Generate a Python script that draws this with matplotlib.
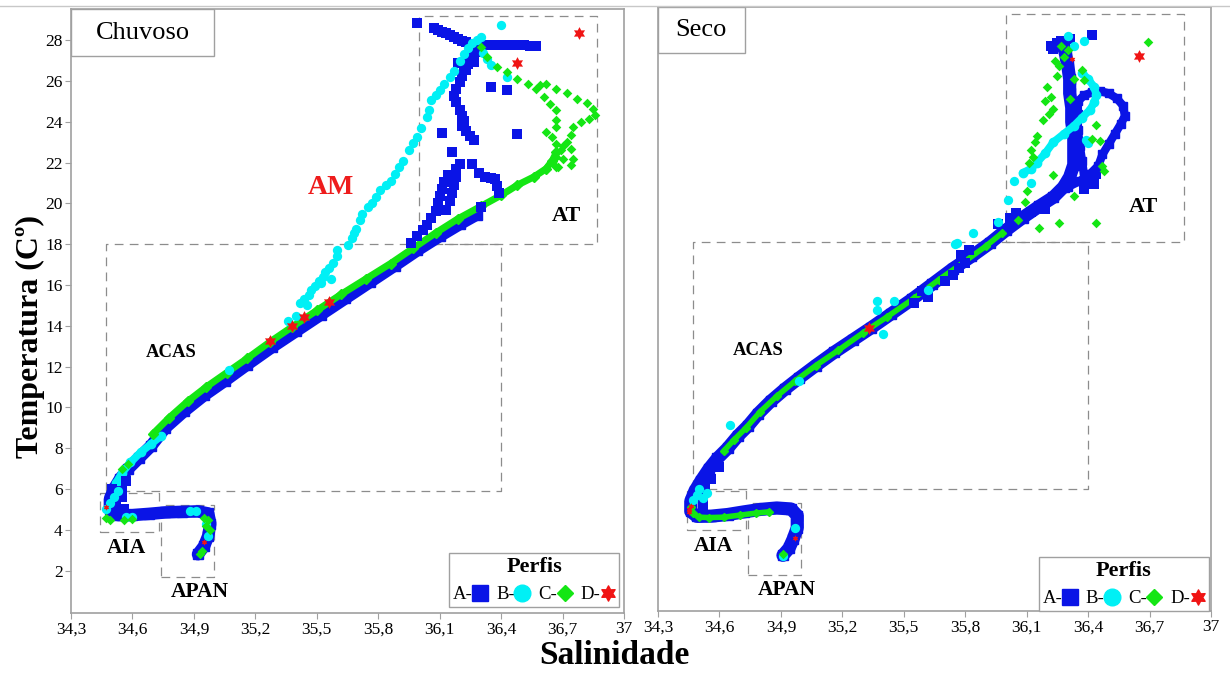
import matplotlib
matplotlib.use("Agg")
import matplotlib.pyplot as plt
from matplotlib.lines import Line2D
from matplotlib.patches import Rectangle
from matplotlib.path import Path

plt.rcParams["font.family"] = ["Liberation Serif", "DejaVu Serif"]

# -------------------------
# Axis ticks
# -------------------------
x_ticks = [34.3, 34.6, 34.9, 35.2, 35.5, 35.8, 36.1, 36.4, 36.7, 37.0]
x_ticklabels = ["34,3", "34,6", "34,9", "35,2", "35,5", "35,8", "36,1", "36,4", "36,7", "37"]
y_ticks = [2, 4, 6, 8, 10, 12, 14, 16, 18, 20, 22, 24, 26, 28]

# water mass boxes: (S min, S max, T min, T max)
box_at = (36.0, 36.87, 18.0, 29.2)
box_acas = (34.47, 36.4, 5.9, 18.0)
box_aia = (34.44, 34.73, 3.9, 5.8)
box_apan = (34.74, 35.0, 1.7, 5.2)

# -------------------------
# Chuvoso (rainy season)
# -------------------------
# profile A (blue) - dense band
ch_a_band_s = [34.92, 34.95, 34.97, 34.98, 34.97, 34.92, 34.84, 34.76, 34.68, 34.60, 34.53, 34.49, 34.49,
               34.51, 34.54, 34.58, 34.63, 34.69, 34.76, 34.85, 34.95, 35.05, 35.16, 35.28, 35.40, 35.52,
               35.64, 35.76, 35.88, 35.99, 36.10, 36.20, 36.28]
ch_a_band_t = [2.8, 3.2, 3.7, 4.3, 4.8, 4.9, 4.88, 4.85, 4.78, 4.72, 4.72, 5.0, 5.5,
               6.0, 6.5, 7.0, 7.5, 8.1, 9.0, 9.8, 10.6, 11.3, 12.1, 12.95, 13.75, 14.55,
               15.35, 16.15, 16.95, 17.7, 18.4, 19.0, 19.45]
ch_a_s = [35.99, 36.07, 36.09, 36.11, 36.13, 36.15, 36.17, 36.19, 36.21, 36.23, 36.26, 36.29, 36.32, 36.35,
          36.38, 36.41, 36.44, 36.48, 36.51, 36.54, 36.57,
          36.26, 36.25, 36.24, 36.23, 36.21, 36.20, 36.18, 36.17, 36.18, 36.20, 36.21, 36.22, 36.21, 36.23,
          36.25, 36.27, 36.16, 36.20, 36.18, 36.14, 36.12, 36.11, 36.10, 36.09, 36.08, 36.06, 36.04, 36.02,
          35.99, 35.96,
          36.18, 36.17, 36.16, 36.15, 36.13,
          36.26, 36.29, 36.32, 36.35, 36.37, 36.38, 36.39,
          36.35, 36.43, 36.11, 36.48, 36.30, 36.19, 36.22, 36.24, 36.27, 36.29,
          34.52, 34.55, 34.56, 34.53, 34.55, 34.50, 34.57]
ch_a_t = [28.82, 28.6, 28.5, 28.42, 28.35, 28.25, 28.15, 28.05, 27.97, 27.9, 27.82, 27.72, 27.75, 27.75,
          27.75, 27.75, 27.75, 27.75, 27.75, 27.72, 27.72,
          27.45, 27.15, 26.85, 26.55, 26.25, 25.95, 25.6, 25.25, 24.95, 24.6, 24.3, 24.05, 23.8, 23.55,
          23.3, 23.1, 22.5, 21.95, 21.7, 21.4, 21.05, 20.7, 20.35, 20.0, 19.65, 19.3, 18.95, 18.7,
          18.4, 18.05,
          21.3, 20.9, 20.5, 20.1, 19.7,
          21.95, 21.5, 21.3, 21.25, 21.2, 20.85, 20.5,
          25.7, 25.55, 23.43, 23.39, 19.83, 26.9, 26.6, 27.25, 26.95, 27.4,
          5.3, 5.6, 5.0, 4.9, 5.9, 6.0, 6.4]

# profile B (cyan)
ch_b_band_s = [34.52, 34.55, 34.59, 34.64, 34.69, 34.74]
ch_b_band_t = [6.3, 6.8, 7.3, 7.8, 8.2, 8.6]
ch_b_s = [34.49, 34.51, 34.53, 34.57, 34.60, 34.88, 34.91, 34.97, 34.96, 34.47, 35.07, 35.36, 35.40,
          35.42, 35.44, 35.46, 35.47, 35.49, 35.51, 35.53, 35.54, 35.56, 35.58, 35.60, 35.60, 35.65,
          35.67, 35.68, 35.69, 35.71, 35.72, 35.75, 35.77, 35.79, 35.81, 35.84, 35.86, 35.88, 35.90,
          35.92, 35.95, 35.97, 35.99, 36.01, 36.04, 36.05, 36.06, 36.08, 36.10, 36.12, 36.15, 36.17,
          36.20, 36.22, 36.24, 36.26, 36.30, 36.31, 36.33, 36.35, 36.43, 36.40, 36.28, 35.45, 35.52, 35.57]
ch_b_t = [5.3, 5.6, 5.9, 4.62, 4.62, 4.9, 4.92, 3.7, 4.3, 5.0, 11.85, 14.25, 14.5,
          15.1, 15.3, 15.5, 15.75, 15.95, 16.2, 16.4, 16.65, 16.85, 17.1, 17.4, 17.7, 17.95,
          18.3, 18.55, 18.75, 19.2, 19.5, 19.8, 20.0, 20.3, 20.65, 20.9, 21.1, 21.45, 21.8,
          22.1, 22.6, 22.95, 23.26, 23.7, 24.24, 24.6, 25.06, 25.3, 25.55, 25.85, 26.2, 26.5,
          27.0, 27.3, 27.6, 27.84, 28.16, 27.35, 27.1, 26.77, 26.2, 28.74, 28.0, 15.0, 16.1, 16.3]

# profile C (green)
ch_c_band_s = [34.70, 34.78, 34.87, 34.96, 35.06, 35.16, 35.27, 35.38, 35.50, 35.62, 35.74, 35.86,
               35.97, 36.08, 36.19, 36.30, 36.40, 36.48, 36.56, 36.62, 36.65, 36.67]
ch_c_band_t = [8.7, 9.5, 10.3, 11.0, 11.7, 12.4, 13.2, 13.95, 14.75, 15.55, 16.3, 17.05,
               17.8, 18.55, 19.25, 19.85, 20.4, 20.9, 21.3, 21.7, 22.1, 22.5]
ch_c_s = [36.30, 36.33, 36.38, 36.43, 36.48, 36.53, 36.57, 36.61, 36.64, 36.67, 36.67, 36.67, 36.62,
          36.65, 36.67, 36.69, 36.67, 36.68,
          36.59, 36.62, 36.67, 36.72, 36.77, 36.82, 36.85, 36.86, 36.83, 36.79, 36.75, 36.74, 36.72,
          36.74, 36.75, 36.74, 36.70, 36.70, 36.67,
          34.47, 34.49, 34.56, 34.60, 34.55, 34.58, 34.97, 34.96, 34.98, 34.95, 34.93, 34.94]
ch_c_t = [27.67, 27.18, 26.69, 26.45, 26.12, 25.87, 25.63, 25.22, 24.89, 24.57, 24.08, 23.75, 23.5,
          23.25, 22.93, 22.6, 22.28, 21.8,
          25.8, 25.87, 25.63, 25.39, 25.14, 24.9, 24.65, 24.33, 24.16, 24.0, 23.75, 23.33, 23.0,
          22.68, 22.19, 21.86, 22.2, 22.8, 21.8,
          4.6, 4.5, 4.5, 4.55, 7.0, 7.2, 4.5, 4.2, 4.0, 4.6, 2.8, 2.95]

# profile D (red)
ch_d_s = [35.27, 35.38, 35.44, 35.56, 36.48, 36.78]
ch_d_t = [13.26, 14.0, 14.41, 15.17, 26.9, 28.36]
ch_d_small_s = [34.47, 34.95]
ch_d_small_t = [5.12, 3.41]

# -------------------------
# Seco (dry season)
# -------------------------
se_a_band_s = [34.91, 34.94, 34.96, 34.98, 34.98, 34.95, 34.88, 34.80, 34.72, 34.64, 34.56, 34.49, 34.46,
               34.46, 34.48, 34.51, 34.55, 34.59, 34.64, 34.69, 34.74, 34.79, 34.85, 34.92, 34.99, 35.07,
               35.16, 35.25, 35.34, 35.44, 35.54, 35.64, 35.74, 35.83, 35.92, 36.00, 36.08, 36.16, 36.23,
               36.28, 36.31, 36.33, 36.33, 36.33, 36.32, 36.32, 36.31, 36.31, 36.30, 36.29, 36.28]
se_a_band_t = [2.65, 3.0, 3.45, 4.0, 4.6, 4.92, 4.97, 4.9, 4.78, 4.65, 4.57, 4.56, 4.8,
               5.3, 5.8, 6.3, 6.9, 7.4, 7.9, 8.5, 9.0, 9.6, 10.2, 10.8, 11.35, 11.95,
               12.6, 13.2, 13.8, 14.5, 15.2, 15.95, 16.7, 17.3, 17.95, 18.6, 19.2, 19.75, 20.2,
               20.7, 21.2, 21.8, 22.5, 23.2, 23.9, 24.6, 25.3, 26.0, 26.7, 27.2, 27.6]
se_a_loop_s = [36.30, 36.36, 36.41, 36.45, 36.47, 36.50, 36.53, 36.56, 36.58, 36.57, 36.54, 36.50,
               36.46, 36.42, 36.38, 36.35, 36.35, 36.35, 36.36, 36.37, 36.38]
se_a_loop_t = [20.7, 21.0, 21.35, 21.75, 22.3, 22.8, 23.3, 23.8, 24.2, 24.7, 25.05, 25.3,
               25.4, 25.35, 25.2, 24.9, 24.3, 23.5, 22.7, 22.0, 21.3]
se_a_s = [36.42, 36.23, 36.25, 36.27, 36.31, 36.22, 35.78, 35.80, 35.77, 35.74, 35.96, 36.02, 36.40,
          36.44, 36.38, 36.43, 35.55, 35.59, 35.62, 36.12, 36.19, 35.82, 36.05, 35.70,
          34.50, 34.53, 34.56, 34.52, 34.60]
se_a_t = [28.14, 27.45, 27.75, 27.85, 27.95, 27.6, 17.35, 17.0, 16.75, 16.4, 18.9, 19.2, 21.0,
          21.35, 20.6, 20.85, 15.0, 15.6, 15.3, 19.5, 19.65, 17.6, 19.45, 16.1,
          5.6, 6.0, 6.4, 5.1, 7.0]

se_b_band_s = [36.08, 36.12, 36.15, 36.19, 36.23, 36.28, 36.33, 36.37, 36.41, 36.43, 36.44, 36.43, 36.40, 36.37]
se_b_band_t = [21.39, 21.6, 21.9, 22.35, 22.9, 23.3, 23.7, 24.1, 24.5, 24.85, 25.2, 25.6, 26.0, 26.3]
se_b_s = [35.76, 35.84, 35.96, 36.01, 36.04, 36.12, 36.30, 36.38, 36.39, 36.40, 35.37, 35.37, 35.45,
          35.40, 35.75, 34.99, 34.47, 34.49, 34.52, 34.91, 34.97, 34.65, 35.62, 36.33, 34.50, 34.54]
se_b_t = [17.96, 18.43, 19.0, 20.08, 20.98, 20.9, 28.12, 27.84, 23.0, 22.85, 15.1, 14.69, 15.1,
          13.5, 17.93, 11.2, 5.35, 5.6, 5.45, 2.63, 4.0, 9.05, 15.65, 27.6, 5.9, 5.7]

se_c_band_s = [34.62, 34.67, 34.73, 34.80, 34.88, 34.97, 35.07, 35.18, 35.30, 35.42, 35.55, 35.67, 35.79, 35.90, 35.98]
se_c_band_t = [7.75, 8.3, 8.9, 9.7, 10.45, 11.2, 11.95, 12.7, 13.55, 14.35, 15.25, 16.15, 17.0, 17.8, 18.45]
se_c_aia_s = [34.46, 34.47, 34.50, 34.55, 34.62, 34.70, 34.78, 34.84]
se_c_aia_t = [5.0, 4.7, 4.52, 4.5, 4.52, 4.62, 4.72, 4.78]
se_c_s = [36.69, 36.18, 36.15, 36.12, 36.11, 36.10, 36.09, 36.23, 36.22, 36.25, 36.26, 36.28, 36.30,
          36.27, 36.24, 36.37, 36.38, 36.44, 36.42, 36.46, 36.47, 36.48, 36.23, 36.26, 36.44, 36.16,
          36.33, 36.20, 36.19, 36.21, 36.14, 36.13, 36.33, 36.31, 36.06, 34.91]
se_c_t = [27.81, 24.0, 23.19, 22.53, 21.88, 20.49, 19.95, 24.55, 25.1, 26.13, 26.62, 27.1, 27.4,
          27.6, 26.9, 26.46, 25.97, 23.76, 23.08, 22.94, 21.72, 21.5, 21.3, 18.94, 18.94, 18.7,
          20.25, 25.6, 24.9, 24.3, 22.9, 22.2, 26.0, 25.0, 19.1, 2.7]

se_d_s = [36.65, 35.33]
se_d_t = [27.14, 13.79]
se_d_small_s = [36.32, 34.45, 34.45, 34.46, 34.97]
se_d_small_t = [27.0, 4.9, 4.75, 5.05, 3.5]

# -------------------------
# Styles
# -------------------------
BLUE = "#0a14e6"
CYAN = "#00f0f5"
GREEN = "#14e614"
RED = "#f01414"
GRAY = "#a0a0a0"
STAR = Path.unit_regular_star(6, 0.55)


def draw_box(ax, box):
    s0, s1, t0, t1 = box
    ax.plot([s0, s1, s1, s0, s0], [t0, t0, t1, t1, t0], color="#8c8c8c", lw=0.9,
            ls=(0, (7, 5)), zorder=1)


def band(ax, s, t, color, lw, marker, ms):
    ax.plot(s, t, color=color, lw=lw, solid_capstyle="round", solid_joinstyle="round",
            marker=marker, ms=ms, mec=color, mfc=color, zorder=2)


def setup(ax, show_y):
    ax.set_xlim(34.3, 37.0)
    ax.set_ylim(-0.08, 29.53)
    ax.set_xticks(x_ticks)
    ax.set_xticklabels(x_ticklabels)
    ax.tick_params(axis="x", labelsize=12.5, length=4, color=GRAY, pad=2)
    if show_y:
        ax.set_yticks(y_ticks)
        ax.set_yticklabels([str(v) for v in y_ticks])
        ax.tick_params(axis="y", labelsize=12.5, length=4, color=GRAY, pad=2)
    else:
        ax.set_yticks([])
    for sp in ax.spines.values():
        sp.set_color(GRAY)
        sp.set_linewidth(1.2)
    for b in (box_at, box_acas, box_aia, box_apan):
        draw_box(ax, b)


def region_labels(ax, at_pos, acas_pos, aia_pos, apan_pos):
    kw = dict(ha="center", va="center", fontweight="bold", zorder=6)
    ax.text(*at_pos, "AT", fontsize=16, **kw)
    ax.text(*acas_pos, "ACAS", fontsize=13.5, **kw)
    ax.text(*aia_pos, "AIA", fontsize=15.5, **kw)
    ax.text(*apan_pos, "APAN", fontsize=15.5, **kw)


def title_box(ax, text, w, h):
    ax.add_patch(Rectangle((0, 1 - h), w, h, transform=ax.transAxes, fill=True, fc="white",
                           ec=GRAY, lw=1.0, zorder=7))
    ax.text(w / 2, 1 - h / 2, text, transform=ax.transAxes, ha="center", va="center",
            fontsize=19, zorder=8)


def legend(ax, anchor):
    handles = [
        Line2D([], [], ls="", marker="s", ms=11, color=BLUE, label="A-"),
        Line2D([], [], ls="", marker="o", ms=12, color=CYAN, label="B-"),
        Line2D([], [], ls="", marker="D", ms=8.5, color=GREEN, label="C-"),
        Line2D([], [], ls="", marker=STAR, ms=11, color=RED, label="D-"),
    ]
    leg = ax.legend(handles=handles, ncol=4, markerfirst=False, loc="lower right",
                    bbox_to_anchor=anchor, borderaxespad=0, title="Perfis",
                    title_fontproperties={"weight": "bold", "size": 16}, fontsize=13.5,
                    handlelength=0.8, handletextpad=0.0, columnspacing=0.45, borderpad=0.2,
                    fancybox=False, edgecolor=GRAY, framealpha=1)
    leg.get_frame().set_linewidth(1.0)
    leg.set_zorder(9)


fig = plt.figure(figsize=(12.3, 6.73), dpi=100)
ax1 = fig.add_axes([71 / 1230, 60 / 673, 553 / 1230, 604 / 673])
ax2 = fig.add_axes([658 / 1230, 62 / 673, 553 / 1230, 604 / 673])

# ---- Chuvoso ----
setup(ax1, True)
band(ax1, ch_a_band_s, ch_a_band_t, BLUE, 9.0, "s", 7)
ax1.scatter(ch_a_s, ch_a_t, marker="s", s=45, color=BLUE, zorder=3, lw=0)
band(ax1, ch_b_band_s, ch_b_band_t, CYAN, 5.5, "o", 6)
ax1.scatter(ch_b_s, ch_b_t, marker="o", s=45, color=CYAN, zorder=4, lw=0)
band(ax1, ch_c_band_s, ch_c_band_t, GREEN, 5.0, "D", 5)
ax1.scatter(ch_c_s, ch_c_t, marker="D", s=24, color=GREEN, zorder=4, lw=0)
ax1.scatter(ch_d_s, ch_d_t, marker=STAR, s=85, color=RED, zorder=5, lw=0)
ax1.scatter(ch_d_small_s, ch_d_small_t, marker=STAR, s=22, color=RED, zorder=5, lw=0)
region_labels(ax1, (36.72, 19.4), (34.79, 12.67), (34.57, 3.1), (34.93, 0.95))
ax1.text(35.57, 20.8, "AM", color="#ee1c1c", fontsize=20, fontweight="bold",
         ha="center", va="center", zorder=6)
title_box(ax1, "Chuvoso", 0.259, 0.078)
legend(ax1, (0.991, 0.01))

# ---- Seco ----
setup(ax2, False)
band(ax2, se_a_band_s, se_a_band_t, BLUE, 9.5, "s", 7)
band(ax2, se_a_loop_s, se_a_loop_t, BLUE, 6.0, "s", 6)
ax2.scatter(se_a_s, se_a_t, marker="s", s=45, color=BLUE, zorder=3, lw=0)
band(ax2, se_b_band_s, se_b_band_t, CYAN, 5.5, "o", 6)
ax2.scatter(se_b_s, se_b_t, marker="o", s=45, color=CYAN, zorder=4, lw=0)
band(ax2, se_c_band_s, se_c_band_t, GREEN, 4.0, "D", 4.5)
band(ax2, se_c_aia_s, se_c_aia_t, GREEN, 4.0, "D", 4.5)
ax2.scatter(se_c_s, se_c_t, marker="D", s=24, color=GREEN, zorder=4, lw=0)
ax2.scatter(se_d_s, se_d_t, marker=STAR, s=85, color=RED, zorder=5, lw=0)
ax2.scatter(se_d_small_s, se_d_small_t, marker=STAR, s=22, color=RED, zorder=5, lw=0)
region_labels(ax2, (36.67, 19.72), (34.79, 12.7), (34.57, 3.09), (34.93, 0.97))
title_box(ax2, "Seco", 0.157, 0.076)
legend(ax2, (0.996, 0.0))

fig.text(30 / 1230, 1 - 337 / 673, "Temperatura (Cº)", rotation=90, ha="center", va="center",
         fontsize=23, fontweight="bold")
fig.text(614 / 1230, 1 - 655 / 673, "Salinidade", ha="center", va="center",
         fontsize=24, fontweight="bold")
fig.add_artist(Line2D([0, 1], [1 - 6 / 673, 1 - 6 / 673], transform=fig.transFigure,
                      color="#c8c8c8", lw=1.0))

fig.savefig("out.png", dpi=100)
